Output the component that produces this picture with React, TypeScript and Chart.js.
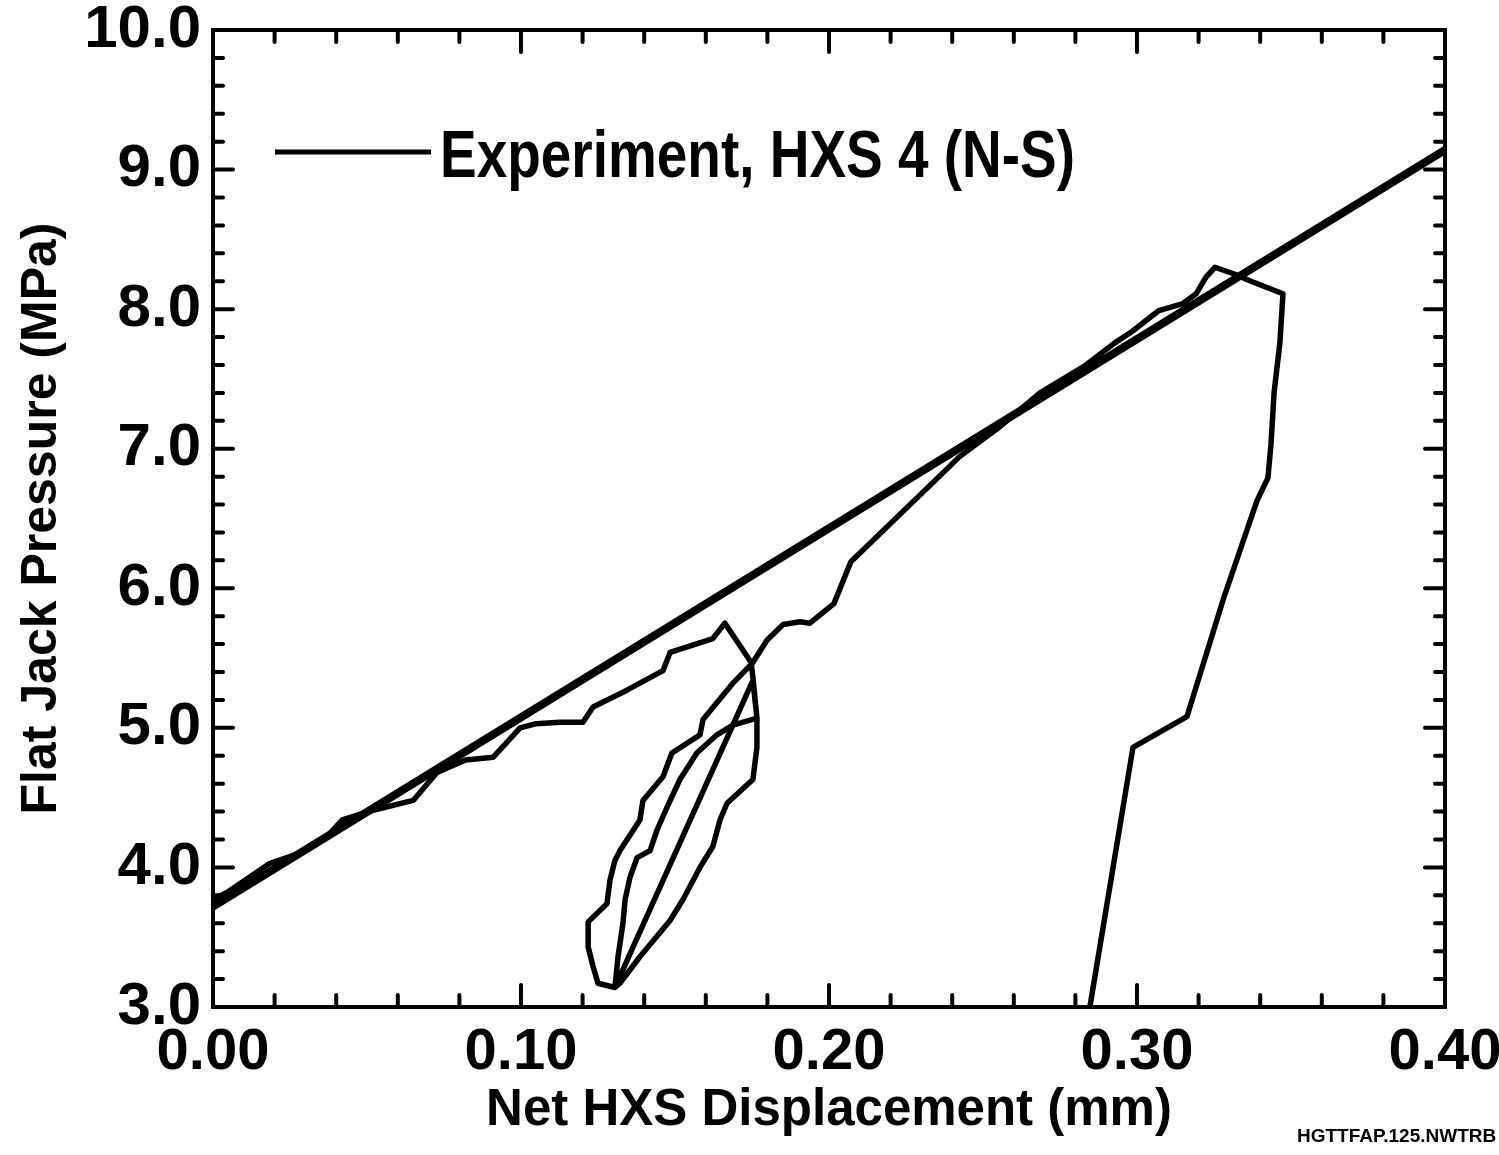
import React, { useEffect, useRef } from "react";
import { Chart, registerables } from "chart.js";

Chart.register(...registerables);

// Experiment, HXS 4 (N-S): net displacement (mm) and flat jack pressure (MPa)
const expX = [
  0.0, 0.0045, 0.0185, 0.028, 0.037, 0.042, 0.052, 0.065, 0.0727, 0.082, 0.091, 0.0997, 0.105, 0.1127,
  0.1201, 0.1234, 0.1344, 0.1461, 0.1484, 0.1623, 0.1662, 0.1747,
  0.1753, 0.1766, 0.1766, 0.1753, 0.1669, 0.1646, 0.1623, 0.1581, 0.1526, 0.1484, 0.1386, 0.1321, 0.1305,
  0.1315, 0.1331, 0.1338, 0.1354, 0.1377, 0.1419, 0.1442, 0.1474, 0.1516, 0.1571, 0.1636, 0.1688, 0.1766,
  0.1753, 0.1305,
  0.125, 0.1234, 0.1218, 0.1218, 0.1279, 0.1289, 0.1305, 0.1321, 0.1386, 0.1396, 0.1461, 0.149, 0.1581, 0.1591, 0.1688, 0.175,
  0.1799, 0.1851, 0.1906, 0.1938, 0.2016, 0.2071, 0.239, 0.2422,
  0.255, 0.2685, 0.2828, 0.2929, 0.2984, 0.3071, 0.3149, 0.3192, 0.3224, 0.3253, 0.3318, 0.337, 0.3474,
  0.3464, 0.3445, 0.3435, 0.3425, 0.339, 0.328, 0.3162, 0.2987, 0.2847,
];
const expY = [
  3.77, 3.82, 4.03, 4.1, 4.22, 4.34, 4.41, 4.48, 4.68, 4.77, 4.79, 5.0, 5.03, 5.04,
  5.04, 5.15, 5.27, 5.41, 5.54, 5.64, 5.75, 5.47,
  5.36, 5.07, 4.86, 4.63, 4.46, 4.34, 4.15, 4.0, 3.77, 3.62, 3.36, 3.17, 3.14,
  3.36, 3.6, 3.77, 3.93, 4.07, 4.12, 4.27, 4.43, 4.63, 4.82, 4.95, 5.02, 5.07,
  5.34, 3.14,
  3.17, 3.29, 3.43, 3.61, 3.74, 3.91, 4.05, 4.12, 4.34, 4.48, 4.65, 4.82, 4.95, 5.06, 5.32, 5.46,
  5.63, 5.74, 5.76, 5.75, 5.89, 6.19, 6.87, 6.94,
  7.15, 7.4, 7.59, 7.76, 7.84, 7.99, 8.04, 8.11, 8.23, 8.3, 8.25, 8.2, 8.11,
  7.76, 7.4, 7.03, 6.79, 6.63, 5.92, 5.08, 4.86, 3.0,
];

// Straight reference line
const fitX = [0.0, 0.4];
const fitY = [3.72, 9.14];

// Axis tick labels
const xLabelValues = [0.0, 0.1, 0.2, 0.3, 0.4];
const yLabelValues = [3, 4, 5, 6, 7, 8, 9, 10];

const legendLabel = "Experiment, HXS 4 (N-S)";
const xTitle = "Net HXS Displacement (mm)";
const yTitle = "Flat Jack Pressure (MPa)";
const footerLabel = "HGTTFAP.125.NWTRB";

const SANS = '"Liberation Sans", Arial, Helvetica, sans-serif';

const near = (a: number, b: number) => Math.abs(a - b) < 1e-6;

const framePlugin = {
  id: "frameTicks",
  afterDatasetsDraw(chart: any) {
    const { ctx, chartArea } = chart;
    const { left, right, top, bottom } = chartArea;
    const xs = chart.scales.x;
    const ys = chart.scales.y;
    ctx.save();
    ctx.strokeStyle = "#000";
    ctx.lineWidth = 4;
    ctx.lineCap = "butt";
    ctx.strokeRect(left, top, right - left, bottom - top);
    ctx.lineCap = "round";
    ctx.beginPath();
    xs.ticks.forEach((t: any) => {
      if (near(t.value, xs.min) || near(t.value, xs.max)) return;
      const px = xs.getPixelForValue(t.value);
      const major = xLabelValues.some((v) => near(v, t.value));
      const L = major ? 22 : 12;
      ctx.moveTo(px, bottom);
      ctx.lineTo(px, bottom - L);
      ctx.moveTo(px, top);
      ctx.lineTo(px, top + L);
    });
    ys.ticks.forEach((t: any) => {
      if (near(t.value, ys.min) || near(t.value, ys.max)) return;
      const py = ys.getPixelForValue(t.value);
      const major = yLabelValues.some((v) => near(v, t.value));
      const L = major ? 20 : 10;
      ctx.moveTo(left, py);
      ctx.lineTo(left + L, py);
      ctx.moveTo(right, py);
      ctx.lineTo(right - L, py);
    });
    ctx.stroke();
    ctx.restore();
  },
  afterDraw(chart: any) {
    const { ctx, chartArea } = chart;
    ctx.save();
    // legend sample line
    ctx.strokeStyle = "#000";
    ctx.lineWidth = 5;
    ctx.beginPath();
    ctx.moveTo(chartArea.left + 62, 152);
    ctx.lineTo(chartArea.left + 218, 152);
    ctx.stroke();
    // legend text, condensed to the original width
    ctx.fillStyle = "#000";
    ctx.textBaseline = "alphabetic";
    ctx.textAlign = "left";
    ctx.font = "bold 66px " + SANS;
    const w = ctx.measureText(legendLabel).width;
    const sx = 635 / w;
    ctx.save();
    ctx.translate(chartArea.left + 227, 177);
    ctx.scale(sx, 1);
    ctx.fillText(legendLabel, 0, 0);
    ctx.restore();
    // footer id
    ctx.font = "bold 19px " + SANS;
    ctx.fillText(footerLabel, 1297, 1142);
    ctx.restore();
  },
};

export default function App() {
  const ref = useRef<HTMLCanvasElement | null>(null);
  useEffect(() => {
    document.body.style.margin = "0";
    const canvas = ref.current;
    if (!canvas) return;
    const chart = new Chart(canvas, {
      type: "scatter",
      data: {
        datasets: [
          {
            label: legendLabel,
            data: expX.map((x, i) => ({ x, y: expY[i] })),
            showLine: true,
            borderColor: "#000",
            backgroundColor: "#000",
            borderWidth: 5.5,
            pointRadius: 0,
            borderJoinStyle: "round",
            borderCapStyle: "round",
            tension: 0,
          },
          {
            label: "line",
            data: fitX.map((x, i) => ({ x, y: fitY[i] })),
            showLine: true,
            borderColor: "#000",
            borderWidth: 8,
            pointRadius: 0,
            tension: 0,
          },
        ],
      },
      options: {
        responsive: false,
        animation: false,
        devicePixelRatio: 1,
        layout: { padding: { left: 0, right: 54, top: 30, bottom: 0 } },
        plugins: { legend: { display: false }, tooltip: { enabled: false } },
        scales: {
          x: {
            type: "linear",
            min: 0,
            max: 0.4,
            grid: { display: false },
            border: { display: false },
            ticks: {
              stepSize: 0.02,
              autoSkip: false,
              maxRotation: 0,
              padding: 9,
              color: "#000",
              font: { family: SANS, size: 58, weight: "bold", lineHeight: 1 },
              callback: (v: any) => {
                const n = Number(v);
                return xLabelValues.some((t) => near(t, n)) ? n.toFixed(2) : "";
              },
            },
            title: {
              display: true,
              text: xTitle,
              color: "#000",
              font: { family: SANS, size: 51, weight: "bold", lineHeight: 1.2 },
              padding: { top: 0, bottom: 13 },
            },
            afterFit: (s: any) => {
              s.height = 1155 - 1007;
              s.paddingLeft = 0;
              s.paddingRight = 0;
            },
          },
          y: {
            type: "linear",
            min: 3,
            max: 10,
            grid: { display: false },
            border: { display: false },
            ticks: {
              stepSize: 0.2,
              autoSkip: false,
              padding: 4,
              color: "#000",
              font: { family: SANS, size: 60, weight: "bold", lineHeight: 1 },
              callback: (v: any) => {
                const n = Number(v);
                return yLabelValues.some((t) => near(t, n)) ? n.toFixed(1) : "";
              },
            },
            title: {
              display: true,
              text: yTitle,
              color: "#000",
              font: { family: SANS, size: 50, weight: "bold", lineHeight: 1.2 },
              padding: { top: 12, bottom: 0 },
            },
            afterFit: (s: any) => {
              s.width = 213;
              s.paddingTop = 0;
              s.paddingBottom = 0;
            },
          },
        },
      },
      plugins: [framePlugin],
    });
    return () => chart.destroy();
  }, []);
  return (
    <div style={{ width: 1499, height: 1155, background: "#fff" }}>
      <canvas ref={ref} width={1499} height={1155} style={{ display: "block" }} />
    </div>
  );
}
